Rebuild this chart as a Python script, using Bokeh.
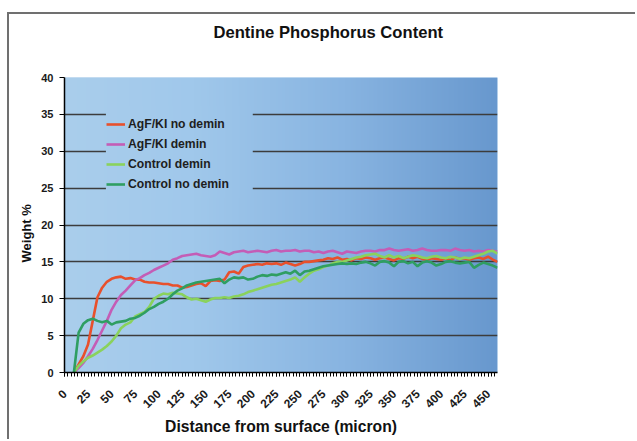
import numpy as np
from bokeh.plotting import figure
from bokeh.models import Range1d, FixedTicker, Title
from bokeh.embed import file_html
from bokeh.resources import INLINE

# ---- data ----
distance = list(range(10, 465, 5))  # microns

agf_no_demin = [
    0, 1.1, 2.2, 3.8, 7.0, 10.2, 11.5, 12.3, 12.7, 12.9,
    13.0, 12.7, 12.8, 12.6, 12.6, 12.3, 12.2, 12.2, 12.1, 12.0,
    12.0, 11.8, 11.8, 11.5, 11.6, 11.8, 12.0, 12.1, 11.7, 12.4,
    12.5, 12.4, 12.6, 13.6, 13.7, 13.4, 14.3, 14.5, 14.6, 14.7,
    14.6, 14.8, 14.7, 14.8, 14.6, 14.9, 14.7, 14.5, 14.7, 15.0,
    15.0, 15.1, 15.2, 15.3, 15.5, 15.4, 15.6, 15.3, 15.4, 15.2,
    15.5, 15.4, 15.6, 15.5, 15.3, 15.5, 15.6, 15.4, 15.2, 15.5,
    15.4, 15.7, 15.5, 15.7, 15.4, 15.3, 15.5, 15.4, 15.3, 15.5,
    15.2, 15.6, 15.4, 15.5, 15.3, 15.5, 15.6, 15.4, 15.7, 15.3,
    15.0,
]
agf_demin = [
    0, 0.6, 1.3, 2.2, 3.2, 4.4, 5.7, 7.0, 8.5, 9.6,
    10.5, 11.1, 11.8, 12.5, 12.8, 13.2, 13.5, 13.9, 14.2, 14.5,
    14.8, 15.3, 15.5, 15.8, 15.9, 16.0, 16.1, 15.9, 15.8, 15.7,
    15.9, 16.4, 16.2, 16.0, 16.3, 16.4, 16.5, 16.3, 16.4, 16.5,
    16.4, 16.3, 16.5, 16.6, 16.4, 16.5, 16.5, 16.6, 16.4, 16.5,
    16.5, 16.3, 16.4, 16.2, 16.4, 16.5, 16.3, 16.1, 16.4, 16.3,
    16.2, 16.4, 16.5, 16.5, 16.4, 16.6, 16.6, 16.8, 16.6, 16.5,
    16.6, 16.7, 16.5, 16.6, 16.8, 16.6, 16.5, 16.5, 16.6, 16.6,
    16.5, 16.8, 16.6, 16.5, 16.6, 16.4, 16.5, 16.4, 16.6, 16.5,
    16.4,
]
control_demin = [
    0, 0.9, 1.5, 2.0, 2.3, 2.7, 3.1, 3.6, 4.2, 5.0,
    6.0, 6.5, 6.8, 7.6, 7.9, 8.2, 8.9, 10.0, 10.4, 10.7,
    10.6, 10.8, 10.7, 10.6, 10.2, 9.9, 10.0, 9.8, 9.6, 9.9,
    10.1, 10.1, 10.2, 10.1, 10.3, 10.4, 10.6, 10.9, 11.1, 11.3,
    11.5, 11.7, 11.9, 12.0, 12.2, 12.4, 12.6, 12.9, 12.3, 12.9,
    13.4, 13.8, 14.0, 14.3, 14.5, 14.8, 15.0, 15.0, 15.2, 15.4,
    15.6, 15.7, 15.9, 16.0, 16.1, 15.8, 15.6, 15.9, 15.6, 15.8,
    15.5, 15.7, 15.9, 15.8, 15.6, 15.5, 15.7, 15.8, 15.6, 15.5,
    15.7, 15.6, 15.4, 15.6, 15.5, 15.7, 15.9, 16.1, 16.4, 16.5,
    16.1,
]
control_no_demin = [
    0, 5.4, 6.6, 7.1, 7.3, 7.0, 6.8, 7.0, 6.5, 6.8,
    6.9, 7.0, 7.3, 7.4, 7.7, 8.1, 8.6, 8.9, 9.3, 9.6,
    10.0, 10.6, 11.1, 11.4, 11.8, 12.0, 12.2, 12.3, 12.4, 12.5,
    12.6, 12.7, 12.1, 12.6, 12.9, 12.8, 12.9, 12.6, 12.7, 13.0,
    13.2, 13.1, 13.3, 13.2, 13.4, 13.6, 13.4, 13.8, 13.2, 13.7,
    13.8, 14.0, 14.2, 14.4, 14.5, 14.6, 14.7, 14.8, 14.7, 14.8,
    14.7, 14.9, 15.0, 14.8, 14.5, 15.0, 15.1, 14.9, 14.4, 15.0,
    15.1, 14.8, 15.0, 14.4, 14.9, 15.1, 14.9, 14.5, 14.7, 15.0,
    15.1, 14.9, 14.8, 14.9, 15.0, 14.2, 14.6, 14.9, 14.7, 14.5,
    14.2,
]

series_names = ["AgF/KI no demin", "AgF/KI demin", "Control demin", "Control no demin"]
series_values = [agf_no_demin, agf_demin, control_demin, control_no_demin]
series_colors = ["#e8502c", "#c45db6", "#8ad25c", "#2f9e62"]

x_major = list(range(0, 475, 25))
y_major = list(range(0, 45, 5))

FONT = "Liberation Sans"
XMAX, YMAX = 460, 40

# canvas is shifted by (9, 14) so that a border line can sit at its top-left
p = figure(
    title=None,
    frame_width=433, frame_height=295,
    min_border_left=55, min_border_right=140,
    min_border_top=63, min_border_bottom=69,
    x_range=Range1d(0, XMAX), y_range=Range1d(0, YMAX),
    output_backend="svg", toolbar_location=None,
    background_fill_color="#9cc4e8", border_fill_color="white",
)
p.styles = {"margin-left": "9px", "margin-top": "14px",
            "box-shadow": "-2px -2px 0px 0px #707070"}
p.outline_line_color = None

# gradient background (decoration)
N = 460
stops = [0.0, 0.3, 0.65, 1.0]
cols = np.array([[170, 206, 236], [160, 200, 235], [136, 180, 225], [104, 152, 206]], dtype=float)
t = np.linspace(0, 1, N)
img = np.empty((1, N), dtype=np.uint32)
view = img.view(dtype=np.uint8).reshape((1, N, 4))
for c in range(3):
    view[0, :, c] = np.interp(t, stops, cols[:, c]).astype(np.uint8)
view[0, :, 3] = 255
p.image_rgba(image=[img], x=0, y=0, dw=XMAX, dh=YMAX, level="image")

# same gradient patch behind the legend so gridlines appear interrupted there
i0, i1 = 44, 200
patch = np.ascontiguousarray(img[:, i0:i1])
p.image_rgba(image=[patch], x=i0 * XMAX / N, y=23.6, dw=(i1 - i0) * XMAX / N, dh=12.6)

for name, vals, col in zip(series_names, series_values, series_colors):
    p.line(distance, vals, line_color=col, line_width=2.6, legend_label=name)

# grid
p.xgrid.visible = False
p.ygrid.ticker = FixedTicker(ticks=y_major[1:])
p.ygrid.grid_line_color = "#3c3c3c"
p.ygrid.grid_line_width = 1.6

# axes
minor = [i * 25 / 7 for i in range(0, 130)]
p.xaxis.ticker = FixedTicker(ticks=x_major, minor_ticks=minor)
p.yaxis.ticker = FixedTicker(ticks=y_major)
for ax in (p.xaxis[0], p.yaxis[0]):
    ax.axis_line_color = "black"
    ax.axis_line_width = 1.5
    ax.major_tick_line_color = "black"
    ax.minor_tick_line_color = "black"
    ax.major_tick_in = 0
    ax.minor_tick_in = 0
    ax.major_label_text_font = FONT
    ax.major_label_text_font_style = "bold"
    ax.major_label_text_color = "#1a1a1a"
    ax.axis_label_text_font = FONT
    ax.axis_label_text_font_style = "bold"
    ax.axis_label_text_color = "#111111"

p.xaxis.major_label_text_font_size = "12px"
p.yaxis.major_label_text_font_size = "11px"
p.xaxis.major_tick_out = 4
p.xaxis.minor_tick_out = 4
p.xaxis.major_label_orientation = np.pi / 4
p.xaxis.major_label_standoff = 15
p.xaxis.axis_label = "Distance from surface (micron)"
p.xaxis.axis_label_text_font_size = "15.7px"
p.xaxis.axis_label_standoff = 3

p.yaxis.major_tick_out = 5
p.yaxis.minor_tick_out = 0
p.yaxis.major_label_standoff = 6
p.yaxis.axis_label = None

# y-axis title as a left-side title so it can sit slightly below centre
ytitle = Title(text="Weight %", align="left", offset=110, standoff=9,
               text_font=FONT, text_font_style="bold", text_font_size="13px",
               text_color="#111111")
p.add_layout(ytitle, "left")

# spacer between frame and chart title, then the chart title itself
p.add_layout(Title(text=" ", text_font_size="10px", standoff=18), "above")
p.add_layout(Title(text="Dentine Phosphorus Content", align="left", offset=149,
                   standoff=10, text_font=FONT, text_font_style="bold",
                   text_font_size="16.6px", text_color="#111111"), "above")

# legend
lg = p.legend[0]
lg.location = (42, 178)
lg.background_fill_alpha = 0.0
lg.border_line_color = None
lg.padding = 4
lg.margin = 0
lg.spacing = 0
lg.label_height = 20
lg.glyph_height = 20
lg.glyph_width = 19
lg.label_standoff = 3
lg.label_width = 116
lg.label_text_font = FONT
lg.label_text_font_style = "bold"
lg.label_text_font_size = "12.2px"
lg.label_text_color = "#1e1e1e"

open("out.html", "w").write(file_html(p, INLINE))
